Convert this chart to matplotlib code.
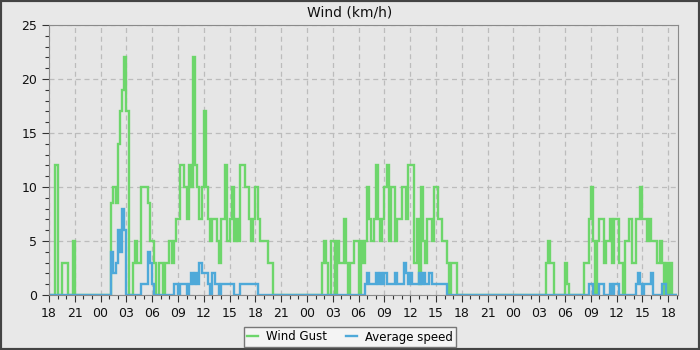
import numpy as np
import matplotlib.pyplot as plt
from matplotlib.patches import Rectangle

# --- data: 15-minute samples, starting 18:00 on the first evening ---
# each row is one hour (4 samples)
gust_day0 = [0, 0, 0, 12,  0, 0, 3, 3,  3, 0, 0, 5] + [0] * 12

gust_day1 = [0, 0, 0, 0,
             0, 8.5, 10, 8.5,
             14, 17, 19, 22,
             17, 0, 0, 3,
             5, 3, 3, 10,
             10, 10, 8.5, 5,
             5, 3, 0, 3,
             3, 0, 3, 3,
             5, 3, 5, 7,
             7, 12, 12, 10,
             7, 12, 10, 22,
             12, 10, 7, 10,
             17, 10, 7, 5,
             7, 7, 5, 3,
             7, 7, 12, 5,
             7, 10, 5, 7,
             5, 12, 12, 10,
             10, 7, 5, 7,
             10, 7, 5, 5,
             5, 5, 3, 3] + [0] * 16

gust_day2 = [0, 0, 0, 0,
             0, 0, 0, 3,
             5, 3, 0, 5,
             5, 0, 5, 3,
             3, 7, 3, 0,
             3, 3, 5, 5,
             0, 5, 3, 5,
             10, 7, 5, 7,
             12, 7, 5, 7,
             10, 12, 5, 10,
             10, 5, 7, 7,
             10, 10, 7, 12,
             12, 12, 3, 7,
             1, 10, 5, 3,
             7, 7, 5, 10,
             10, 7, 7, 5,
             5, 3, 0, 3,
             3, 3, 0, 0] + [0] * 24

gust_day3 = [0] * 12 + [
             0, 0, 0, 3,
             5, 3, 3, 0,
             0, 0, 0, 0,
             3, 1, 0, 0,
             0, 0, 0, 0,
             0, 3, 3, 7,
             10, 5, 0, 5,
             7, 7, 3, 5,
             5, 7, 3, 7,
             7, 3, 3, 0,
             5, 5, 7, 3,
             3, 7, 7, 10,
             7, 7, 5, 7,
             5, 5, 5, 3,
             5, 3, 0, 3,
             0, 3, 0, 0]

avg_day0 = [0] * 24

avg_day1 = [0, 0, 0, 0,
            0, 4, 2, 3,
            6, 4, 8, 6,
            0, 0, 0, 0,
            0, 0, 0, 1,
            1, 1, 4, 3,
            1, 0, 0, 0,
            0, 0, 0, 0,
            0, 0, 1, 1,
            0, 1, 1, 1,
            0, 1, 2, 1,
            2, 1, 3, 2,
            2, 2, 1, 0,
            2, 1, 1, 0,
            1, 1, 1, 1,
            1, 1, 0, 0,
            0, 1, 1, 1,
            1, 1, 1, 1,
            1, 0, 0, 0] + [0] * 20

avg_day2 = [0] * 24 + [
            0, 0, 0, 1,
            2, 1, 1, 1,
            2, 1, 2, 1,
            2, 1, 1, 1,
            1, 2, 1, 1,
            1, 3, 2, 1,
            2, 1, 1, 1,
            2, 1, 2, 1,
            1, 2, 1, 1,
            1, 1, 1, 1,
            1, 0, 0, 0] + [0] * 28

avg_day3 = [0] * 32 + [
            0, 0, 0, 1,
            1, 0, 0, 0,
            1, 1, 0, 0,
            0, 1, 0, 1,
            1, 0, 0, 0,
            0, 0, 0, 0,
            0, 1, 2, 1,
            0, 1, 1, 1,
            2, 0, 0, 0,
            0, 1, 1, 0,
            0, 0, 0, 0]

start_hour = 18
step_h = 0.25

gust = np.array(gust_day0 + gust_day1 + gust_day2 + gust_day3, dtype=float)
avg = np.array(avg_day0 + avg_day1 + avg_day2 + avg_day3, dtype=float)
edges = np.arange(len(gust) + 1) * step_h

# --- plot ---
fig = plt.figure(figsize=(7, 3.5), dpi=100)
fig.patch.set_facecolor('#e8e8e8')
fig.patches.append(Rectangle((0, 0), 1, 1, transform=fig.transFigure,
                             fill=False, edgecolor='#444444', lw=3))

ax = fig.add_axes([49 / 700, 55 / 350, 629 / 700, 270 / 350])
ax.set_facecolor('#e6e6e6')

ax.stairs(gust, edges, baseline=None, color='#6dd66b', lw=1.7, label='Wind Gust')
ax.stairs(avg, edges, baseline=None, color='#4ea9d9', lw=1.7, label='Average speed')

ax.set_xlim(0, 73.15)
ax.set_ylim(0, 25)

xt = np.arange(0, 73, 3)
ax.set_xticks(xt)
ax.set_xticklabels([f"{(start_hour + int(h)) % 24:02d}" for h in xt])
ax.set_xticks(np.arange(0, 73.5, 1), minor=True)
ax.set_yticks(np.arange(0, 26, 5))
ax.set_yticks(np.arange(0, 26, 1), minor=True)

ax.tick_params(which='both', direction='out', color='#333333', labelsize=9,
               labelcolor='#111111')
ax.tick_params(which='major', length=5, width=0.8)
ax.tick_params(which='minor', length=3, width=0.8)

ax.grid(True, which='major', linestyle=(0, (4, 3)), color='#bcbcbc', lw=0.9)
ax.set_axisbelow(True)
for s in ax.spines.values():
    s.set_color('#8a8a8a')

fig.text(0.5, 1 - 12 / 350, 'Wind (km/h)', ha='center', va='center',
         fontsize=10, color='#111111')

leg = fig.legend(loc='center', bbox_to_anchor=(0.5, 13 / 350), ncol=2,
                 fontsize=8.5, frameon=True, fancybox=False, handlelength=0.9,
                 handletextpad=0.7, columnspacing=1.6, borderpad=0.3)
leg.get_frame().set_facecolor('#f4f4f4')
leg.get_frame().set_edgecolor('#777777')
leg.get_frame().set_alpha(1)

fig.savefig('out.png', dpi=100, facecolor=fig.get_facecolor())
